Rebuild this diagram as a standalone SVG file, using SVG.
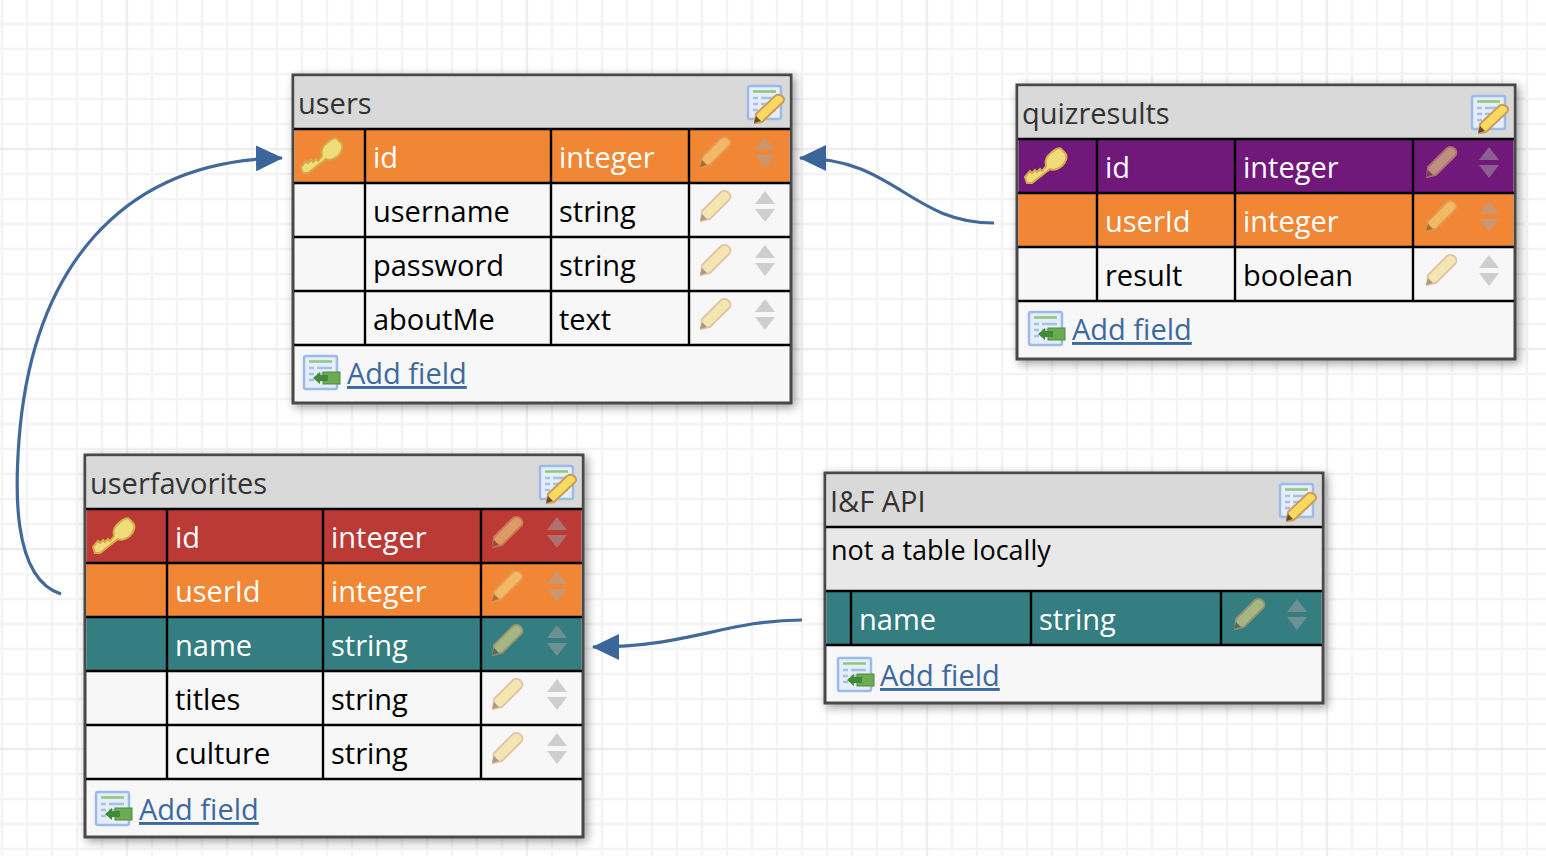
<svg xmlns="http://www.w3.org/2000/svg" width="1546" height="856" viewBox="0 0 1546 856">
<style>
text{font-family:"Open Sans","Noto Sans","Liberation Sans",sans-serif;font-size:29px;fill:#000}
.t{fill:#333}
.w{fill:#fff}
.a{fill:#3d6a9e;text-decoration:underline}
.n{font-size:27px}
.box{fill:#f7f7f7;stroke:#484848;stroke-width:3}
.head{fill:#d9d9d9}
.ln{stroke:#000;stroke-width:2.4;fill:none}
.conn{fill:none;stroke:#41699a;stroke-width:3.2}
.grid1{stroke:#f4f4f4;stroke-width:2.5;fill:none}
.grid2{stroke:#eee;stroke-width:2.5;fill:none}
</style>
<defs>
<filter id="sh" x="-6%" y="-8%" width="114%" height="118%"><feDropShadow dx="3" dy="3" stdDeviation="5" flood-color="#000" flood-opacity=".38"/></filter>
<marker id="arr" markerUnits="userSpaceOnUse" markerWidth="28" markerHeight="26" refX="26" refY="13" orient="auto"><path d="M0 0L27 13L0 26Z" fill="#3a6699"/></marker>
<g id="key"><path d="M1 30l5-6 2 2 3-3 2 2 3-3 2 2 4-5c-2-6 2-11 6-14 3-3 8-5 9-3l4 4c3 3 1 9-3 13-4 3-8 5-12 3L8 36 3 36z" fill="#efdd7c" stroke="#d7a94c" stroke-width="2"/></g>
<g id="pencil" opacity=".6"><path d="M2 21L21 2c3-2 6-1 8 1s2 5 0 7L10 29 1 31z" fill="#f2dc85" stroke="#d5a36b" stroke-width="1.800"/><path d="M0 31l2-7 5 5z" fill="#7a5a3a"/></g>
<g id="updown" opacity=".5"><path d="M10 0L20 13H0Z" fill="#a6a6a6"/><path d="M0 18H20L10 31Z" fill="#a6a6a6"/></g>
<g id="edit"><rect x="1" y="1" width="33" height="33" fill="#e6eefb" stroke="#9cbbe8" stroke-width="2.500" rx="2"/><path d="M6 6.500H29" stroke="#8cc878" stroke-width="2.500"/><path d="M6 13h5M14 13h15M6 19h5M14 19h15M6 25h5M14 25h15" stroke="#a9c0e6" stroke-width="2.500"/><path d="M9 29L28 11c3-2 6-1 8 1s1 5-1 6L15 37 8 38z" fill="#f5dc60" stroke="#d09a5a" stroke-width="2"/><path d="M7 38l2-7 5 5z" fill="#6b4a2c"/></g>
<g id="add"><rect x="1" y="1" width="33" height="33" fill="#e6eefb" stroke="#9cbbe8" stroke-width="2.500" rx="2"/><path d="M6 6.500H29" stroke="#8cc878" stroke-width="2.500"/><path d="M6 13h5M14 13h15M6 19h5M14 19h15M6 25h5M14 25h15" stroke="#a9c0e6" stroke-width="2.500"/><rect x="20" y="17" width="17" height="12" fill="#6cab52" stroke="#4c8c3c"/><path d="M10 23l7-6v3h8v6h-8v3z" fill="#3f8c35"/></g>
</defs>
<rect width="1546" height="856" fill="#fff"/>
<g id="grid">
<path class="grid1" d="M2 0V856M27 0V856M52 0V856M77 0V856M102 0V856M152 0V856M177 0V856M202 0V856M227 0V856M252 0V856M277 0V856M302 0V856M327 0V856M352 0V856M377 0V856M402 0V856M427 0V856M452 0V856M477 0V856M502 0V856M552 0V856M577 0V856M602 0V856M627 0V856M652 0V856M677 0V856M702 0V856M727 0V856M752 0V856M777 0V856M802 0V856M827 0V856M852 0V856M877 0V856M902 0V856M952 0V856M977 0V856M1002 0V856M1027 0V856M1052 0V856M1077 0V856M1102 0V856M1127 0V856M1152 0V856M1177 0V856M1202 0V856M1227 0V856M1252 0V856M1277 0V856M1302 0V856M1352 0V856M1377 0V856M1402 0V856M1427 0V856M1452 0V856M1477 0V856M1502 0V856M1527 0V856"/>
<path class="grid1" d="M0 24H1546M0 49H1546M0 74H1546M0 99H1546M0 124H1546M0 174H1546M0 199H1546M0 224H1546M0 249H1546M0 274H1546M0 299H1546M0 324H1546M0 374H1546M0 399H1546M0 424H1546M0 449H1546M0 474H1546M0 499H1546M0 524H1546M0 574H1546M0 599H1546M0 624H1546M0 649H1546M0 674H1546M0 699H1546M0 724H1546M0 774H1546M0 799H1546M0 824H1546M0 849H1546"/>
<path class="grid2" d="M127 0V856M527 0V856M927 0V856M1327 0V856M0 149H1546M0 349H1546M0 549H1546M0 749H1546"/>
</g>
<g id="connectors">
<path class="conn" marker-end="url(#arr)" d="M61 594C10 578 16 480 19 440C32 270 120 160 282 158"/>
<path class="conn" marker-end="url(#arr)" d="M994 223C910 223 895 158 800 158"/>
<path class="conn" marker-end="url(#arr)" d="M802 620C725 620 690 647 593 647"/>
</g>

<g id="users">
<rect class="box" x="293" y="75" width="498" height="328" filter="url(#sh)"/>
<rect class="head" x="294.500" y="76.500" width="495" height="52"/>
<rect fill="#f18634" x="294.500" y="129" width="495" height="54"/>
<path class="ln" d="M294 129H790M294 183H790M294 237H790M294 291H790M294 345H790M365 129V345M551 129V345M689 129V345"/>
<text class="t" x="298" y="114">users</text>
<use href="#edit" x="747" y="85"/>
<use href="#key" x="300" y="137"/>
<text class="w" x="373" y="168">id</text><text class="w" x="559" y="168">integer</text>
<text x="373" y="222">username</text><text x="559" y="222">string</text>
<text x="373" y="276">password</text><text x="559" y="276">string</text>
<text x="373" y="330">aboutMe</text><text x="559" y="330">text</text>
<use href="#pencil" x="700" y="136"/><use href="#updown" x="755" y="137"/>
<use href="#pencil" x="700" y="190"/><use href="#updown" x="755" y="191"/>
<use href="#pencil" x="700" y="244"/><use href="#updown" x="755" y="245"/>
<use href="#pencil" x="700" y="298"/><use href="#updown" x="755" y="299"/>
<use href="#add" x="303" y="355"/>
<text class="a" x="347" y="384">Add field</text>
</g>

<g id="quizresults">
<rect class="box" x="1017" y="85" width="498" height="274" filter="url(#sh)"/>
<rect class="head" x="1018.500" y="86.500" width="495" height="52"/>
<rect fill="#70197a" x="1018.500" y="139" width="495" height="54"/>
<rect fill="#f18634" x="1018.500" y="193" width="495" height="54"/>
<path class="ln" d="M1018 139H1514M1018 193H1514M1018 247H1514M1018 301H1514M1097 139V301M1235 139V301M1413 139V301"/>
<text class="t" x="1022" y="124">quizresults</text>
<use href="#edit" x="1471" y="95"/>
<use href="#key" x="1024" y="147"/>
<text class="w" x="1105" y="178">id</text><text class="w" x="1243" y="178">integer</text>
<text class="w" x="1105" y="232">userId</text><text class="w" x="1243" y="232">integer</text>
<text x="1105" y="286">result</text><text x="1243" y="286">boolean</text>
<use href="#pencil" x="1426" y="146"/><use href="#updown" x="1479" y="147"/>
<use href="#pencil" x="1426" y="200"/><use href="#updown" x="1479" y="201"/>
<use href="#pencil" x="1426" y="254"/><use href="#updown" x="1479" y="255"/>
<use href="#add" x="1028" y="311"/>
<text class="a" x="1072" y="340">Add field</text>
</g>

<g id="userfavorites">
<rect class="box" x="85" y="455" width="498" height="382" filter="url(#sh)"/>
<rect class="head" x="86.500" y="456.500" width="495" height="52"/>
<rect fill="#bb3a36" x="86.500" y="509" width="495" height="54"/>
<rect fill="#f18634" x="86.500" y="563" width="495" height="54"/>
<rect fill="#347d80" x="86.500" y="617" width="495" height="54"/>
<path class="ln" d="M86 509H582M86 563H582M86 617H582M86 671H582M86 725H582M86 779H582M167 509V779M323 509V779M481 509V779"/>
<text class="t" x="90" y="494">userfavorites</text>
<use href="#edit" x="539" y="465"/>
<use href="#key" x="92" y="517"/>
<text class="w" x="175" y="548">id</text><text class="w" x="331" y="548">integer</text>
<text class="w" x="175" y="602">userId</text><text class="w" x="331" y="602">integer</text>
<text class="w" x="175" y="656">name</text><text class="w" x="331" y="656">string</text>
<text x="175" y="710">titles</text><text x="331" y="710">string</text>
<text x="175" y="764">culture</text><text x="331" y="764">string</text>
<use href="#pencil" x="492" y="516"/><use href="#updown" x="547" y="517"/>
<use href="#pencil" x="492" y="570"/><use href="#updown" x="547" y="571"/>
<use href="#pencil" x="492" y="624"/><use href="#updown" x="547" y="625"/>
<use href="#pencil" x="492" y="678"/><use href="#updown" x="547" y="679"/>
<use href="#pencil" x="492" y="732"/><use href="#updown" x="547" y="733"/>
<use href="#add" x="95" y="791"/>
<text class="a" x="139" y="820">Add field</text>
</g>

<g id="if-api">
<rect class="box" x="825" y="473" width="498" height="230" filter="url(#sh)"/>
<rect class="head" x="826.500" y="474.500" width="495" height="52"/>
<rect fill="#e8e8e8" x="826.500" y="527" width="495" height="64"/>
<rect fill="#347d80" x="826.500" y="591" width="495" height="54"/>
<path class="ln" d="M826 527H1322M826 591H1322M826 645H1322M851 591V645M1031 591V645M1221 591V645"/>
<text class="t" x="830" y="512">I&amp;F API</text>
<use href="#edit" x="1279" y="483"/>
<text class="n" x="831" y="560">not a table locally</text>
<text class="w" x="859" y="630">name</text><text class="w" x="1039" y="630">string</text>
<use href="#pencil" x="1234" y="598"/><use href="#updown" x="1287" y="599"/>
<use href="#add" x="837" y="657"/>
<text class="a" x="880" y="686">Add field</text>
</g>
</svg>
